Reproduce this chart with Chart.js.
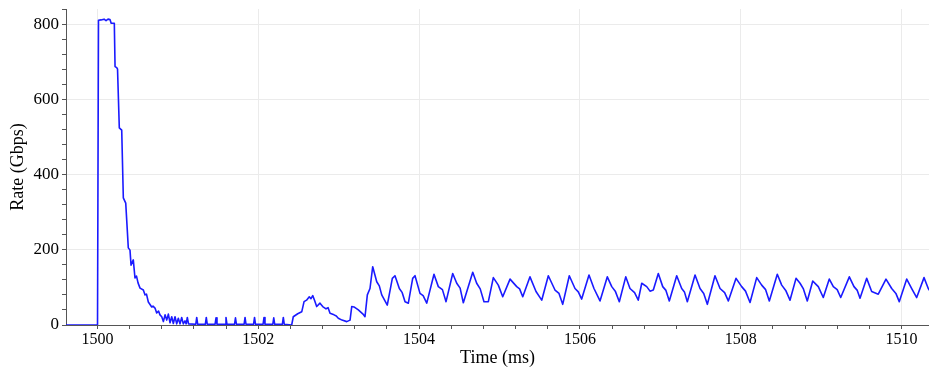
<!DOCTYPE html>
<html>
<head>
<meta charset="utf-8">
<title>Rate over time</title>
<script src="https://cdn.jsdelivr.net/npm/chart.js@4.4.0/dist/chart.umd.min.js"></script>
<style>
  html, body { margin: 0; padding: 0; background: #fff; }
  #wrap { width: 929px; height: 369px; }
</style>
</head>
<body>
<div id="wrap"><canvas id="rateChart" width="929" height="369"></canvas></div>
<script>
(function () {
    "use strict";

    // Sampled rate trace (time in ms, rate in Gbps)
    const timeMs = [
        1499.60, 1500.000, 1500.012, 1500.044, 1500.081, 1500.106, 1500.131, 1500.155, 1500.170, 1500.209,
        1500.218, 1500.239, 1500.249, 1500.271, 1500.301, 1500.321, 1500.351, 1500.383, 1500.404, 1500.417,
        1500.433, 1500.445, 1500.466, 1500.485, 1500.504, 1500.529, 1500.570, 1500.591, 1500.609, 1500.632,
        1500.674, 1500.690, 1500.715, 1500.736, 1500.759, 1500.777, 1500.799, 1500.819, 1500.840, 1500.861,
        1500.881, 1500.902, 1500.923, 1500.943, 1500.964, 1500.985, 1501.005, 1501.026, 1501.047, 1501.067,
        1501.088, 1501.103, 1501.117, 1501.132,
        // narrow spikes on the floor
        1501.222, 1501.234, 1501.246, 1501.341, 1501.353, 1501.365, 1501.462, 1501.474, 1501.486,
        1501.586, 1501.598, 1501.610, 1501.704, 1501.716, 1501.728, 1501.823, 1501.835, 1501.847,
        1501.941, 1501.953, 1501.965, 1502.059, 1502.071, 1502.083, 1502.180, 1502.192, 1502.204,
        1502.299, 1502.311, 1502.323, 1502.415,
        // recovery
        1502.435, 1502.490, 1502.540, 1502.569, 1502.600, 1502.634, 1502.655, 1502.677, 1502.699, 1502.726,
        1502.767, 1502.801, 1502.842, 1502.868, 1502.892, 1502.942, 1502.970, 1502.995, 1503.041, 1503.100,
        1503.141, 1503.162, 1503.190, 1503.244, 1503.302, 1503.327, 1503.356, 1503.389, 1503.423, 1503.473,
        1503.505, 1503.535, 1503.604, 1503.667, 1503.700, 1503.754, 1503.790, 1503.825, 1503.866, 1503.920,
        1503.949, 1504.011, 1504.050, 1504.095, 1504.185, 1504.239, 1504.290, 1504.335, 1504.418, 1504.468,
        1504.510, 1504.550, 1504.667, 1504.716, 1504.760, 1504.807, 1504.861, 1504.923, 1504.985, 1505.040,
        1505.131, 1505.214, 1505.250, 1505.289, 1505.379, 1505.454, 1505.525, 1505.607, 1505.690, 1505.740,
        1505.786, 1505.868, 1505.939, 1505.980, 1506.022, 1506.113, 1506.175, 1506.250, 1506.341, 1506.396,
        1506.440, 1506.490, 1506.570, 1506.623, 1506.680, 1506.726, 1506.769, 1506.831, 1506.872, 1506.913,
        1506.975, 1507.030, 1507.070, 1507.112, 1507.204, 1507.266, 1507.300, 1507.336, 1507.432, 1507.494,
        1507.540, 1507.585, 1507.680, 1507.743, 1507.800, 1507.846, 1507.942, 1508.012, 1508.060, 1508.116,
        1508.199, 1508.261, 1508.310, 1508.356, 1508.455, 1508.510, 1508.560, 1508.613, 1508.688, 1508.738,
        1508.780, 1508.828, 1508.896, 1508.937, 1508.965, 1509.027, 1509.102, 1509.152, 1509.200, 1509.244,
        1509.351, 1509.409, 1509.450, 1509.484, 1509.567, 1509.629, 1509.711, 1509.807, 1509.878, 1509.930,
        1509.972, 1510.065, 1510.127, 1510.189, 1510.280, 1510.333, 1510.360
    ];

    const rateGbps = [
        0, 0, 810, 811, 813, 809, 813, 812, 802, 802,
        687, 684, 680, 524, 518, 338, 324, 205, 199, 159,
        167, 173, 125, 130, 112, 98, 93, 80, 82, 61,
        48, 50, 45, 32, 37, 27, 22, 9, 27, 13,
        29, 6, 22, 4, 22, 3, 18, 3, 20, 3,
        11, 3, 20, 3,
        2, 20, 2, 2, 20, 2, 2, 19, 2,
        2, 20, 2, 2, 19, 2, 2, 20, 2,
        2, 20, 2, 2, 20, 2, 2, 19, 2,
        2, 20, 2, 0,
        22, 30, 35, 62, 66, 75, 70, 78, 66, 49,
        58, 49, 43, 46, 31, 27, 24, 18, 13, 9,
        13, 49, 48, 40, 29, 22, 80, 97, 155, 115,
        104, 80, 53, 124, 131, 97, 86, 62, 58, 124,
        131, 84, 78, 58, 135, 102, 94, 62, 137, 111,
        98, 59, 140, 111, 96, 62, 62, 126, 106, 75,
        122, 102, 96, 75, 128, 89, 66, 131, 93, 84,
        55, 131, 97, 88, 69, 133, 97, 64, 128, 102,
        90, 62, 128, 97, 86, 66, 111, 102, 90, 93,
        137, 102, 92, 64, 131, 97, 88, 62, 133, 97,
        84, 55, 131, 97, 86, 64, 124, 102, 90, 60,
        126, 106, 94, 64, 135, 106, 92, 66, 124, 111,
        96, 64, 117, 108, 102, 73, 122, 102, 94, 73,
        128, 102, 92, 71, 124, 89, 82, 122, 97, 84,
        62, 122, 97, 73, 126, 97, 88
    ];

    // Axis ranges and tick spacing
    const xRange = [1499.608, 1510.342];
    const yRange = [0, 840];
    const xLabelTicks = [1500, 1502, 1504, 1506, 1508, 1510];
    const yLabelTicks = [0, 200, 400, 600, 800];
    const xMinorStep = 0.4;
    const yMinorStep = 40;

    const lineColor = '#1a1aff';
    const gridColor = '#ebebeb';
    const axisColor = '#555555';
    const serif = "'Liberation Serif', 'Times New Roman', Times, serif";

    const points = timeMs.map((t, i) => ({ x: t, y: rateGbps[i] }));

    function isLabelled(list, v) {
        return list.some(l => Math.abs(l - v) < 1e-6);
    }

    function minorTicks(start, end, step) {
        const out = [];
        for (let v = start; v <= end + 1e-9; v += step) out.push({ value: Number(v.toFixed(3)) });
        return out;
    }

    // keep the plot box where the layout padding puts it
    function noLabelPadding(scale) {
        scale.paddingTop = 0;
        scale.paddingBottom = 0;
        scale.paddingLeft = 0;
        scale.paddingRight = 0;
    }

    new Chart(document.getElementById('rateChart'), {
        type: 'line',
        data: {
            datasets: [{
                data: points,
                borderColor: lineColor,
                borderWidth: 1.6,
                borderJoinStyle: 'round',
                pointRadius: 0,
                tension: 0,
                fill: false
            }]
        },
        options: {
            responsive: false,
            animation: false,
            layout: { padding: { top: 9, right: 0, left: 0, bottom: 0 } },
            plugins: { legend: { display: false }, tooltip: { enabled: false } },
            scales: {
                x: {
                    type: 'linear',
                    min: xRange[0],
                    max: xRange[1],
                    afterBuildTicks: (scale) => { scale.ticks = minorTicks(1500, xRange[1], xMinorStep); },
                    afterFit: (scale) => { scale.height = 44; noLabelPadding(scale); },
                    ticks: {
                        autoSkip: false,
                        maxRotation: 0,
                        padding: 1,
                        color: '#000',
                        font: { family: serif, size: 16 },
                        callback: (v) => isLabelled(xLabelTicks, v) ? String(Math.round(v)) : ''
                    },
                    grid: {
                        color: (ctx) => ctx.tick && isLabelled(xLabelTicks, ctx.tick.value) ? gridColor : 'rgba(0,0,0,0)',
                        tickColor: axisColor,
                        tickLength: 4,
                        lineWidth: 1
                    },
                    border: { display: true, color: axisColor, width: 1 },
                    title: {
                        display: true,
                        text: 'Time (ms)',
                        color: '#000',
                        font: { family: serif, size: 18 },
                        padding: { top: 0, bottom: 0 }
                    }
                },
                y: {
                    min: yRange[0],
                    max: yRange[1],
                    afterBuildTicks: (scale) => { scale.ticks = minorTicks(yRange[0], yRange[1], yMinorStep); },
                    afterFit: (scale) => { scale.width = 66; noLabelPadding(scale); },
                    ticks: {
                        autoSkip: false,
                        padding: 3,
                        color: '#000',
                        font: { family: serif, size: 17 },
                        callback: (v) => isLabelled(yLabelTicks, v) ? String(v) : ''
                    },
                    grid: {
                        color: (ctx) => ctx.tick && isLabelled(yLabelTicks, ctx.tick.value) && ctx.tick.value > 0 ? gridColor : 'rgba(0,0,0,0)',
                        tickColor: axisColor,
                        tickLength: 4,
                        lineWidth: 1
                    },
                    border: { display: true, color: axisColor, width: 1 },
                    title: {
                        display: true,
                        text: 'Rate (Gbps)',
                        color: '#000',
                        font: { family: serif, size: 18 },
                        padding: { top: 7, bottom: 0 }
                    }
                }
            }
        }
    });
})();
</script>
</body>
</html>
